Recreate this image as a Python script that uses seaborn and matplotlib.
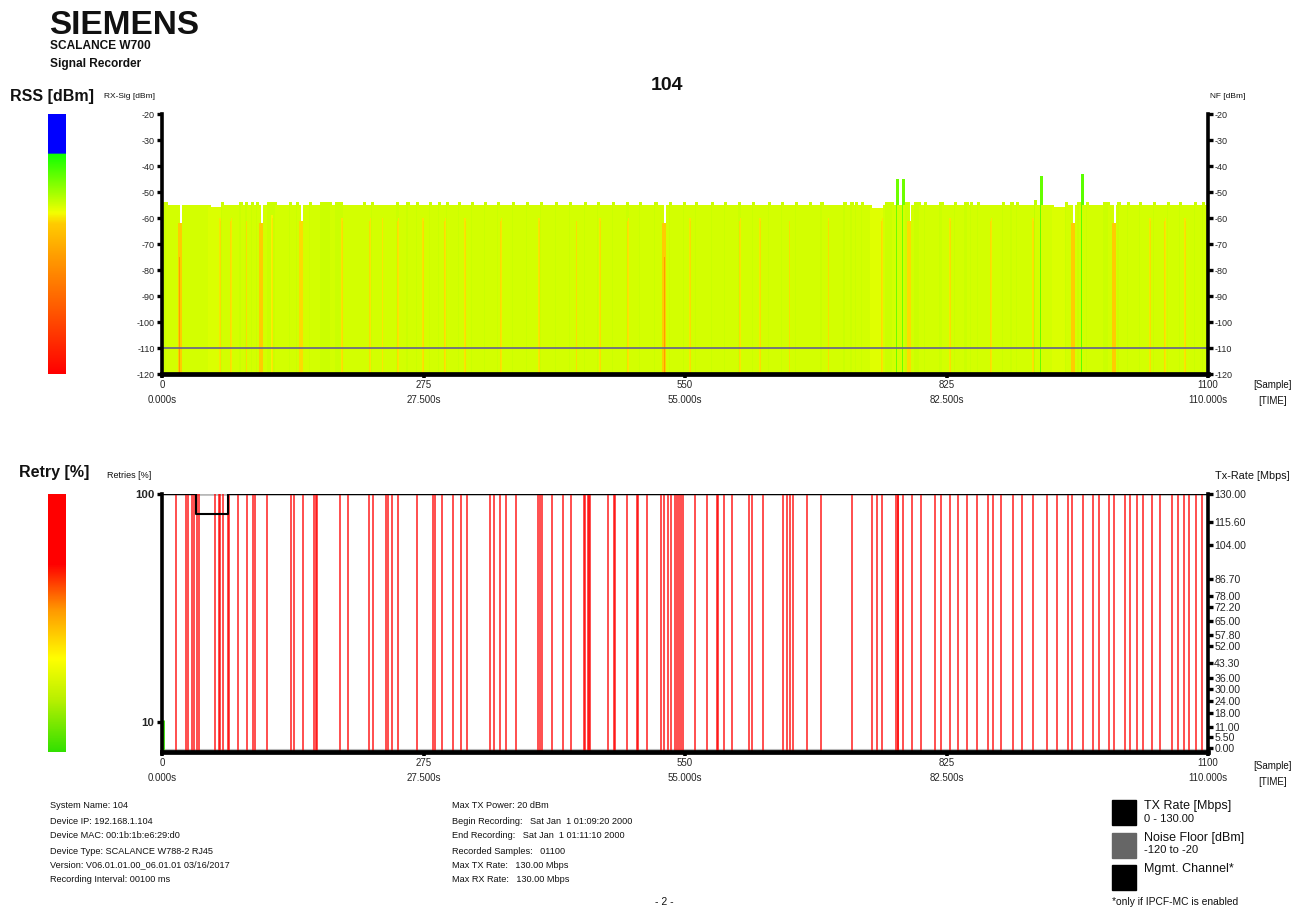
import numpy as np
import pandas as pd
import matplotlib
matplotlib.use("Agg")
import matplotlib.pyplot as plt
import seaborn as sns
from matplotlib.colors import LinearSegmentedColormap, to_hex

# ---------------- data ----------------
n_samples = 1100
sample_ticks = [0, 275, 550, 825, 1100]
time_labels = ["0.000s", "27.500s", "55.000s", "82.500s", "110.000s"]
rss_ticks = [-20, -30, -40, -50, -60, -70, -80, -90, -100, -110, -120]

rss_typical = -55
# sample ranges (inclusive) whose RSS reads one dB higher (-54)
rss_high_ranges = [(2, 4), (63, 63), (74, 74), (82, 83), (88, 88), (95, 95), (100, 100),
                   (111, 119), (135, 135), (142, 142), (156, 156), (167, 177), (183, 188),
                   (212, 212), (221, 221), (247, 247), (258, 259), (268, 268), (275, 275),
                   (282, 282), (291, 291), (299, 300), (312, 312), (326, 326), (340, 340),
                   (353, 353), (369, 369), (384, 384), (399, 399), (414, 414), (429, 429),
                   (445, 445), (459, 459), (474, 474), (489, 489), (503, 503), (519, 519),
                   (534, 534), (549, 549), (562, 562), (578, 578), (592, 592), (607, 607),
                   (622, 622), (638, 638), (652, 652), (667, 667), (681, 681), (693, 694),
                   (701, 701), (717, 718), (725, 726), (730, 730), (736, 736), (761, 768),
                   (782, 784), (792, 796), (802, 802), (818, 820), (834, 834), (845, 847),
                   (851, 851), (858, 858), (884, 884), (893, 894), (899, 899), (951, 951),
                   (963, 964), (973, 973), (991, 995), (1005, 1006), (1016, 1016),
                   (1029, 1029), (1043, 1043), (1058, 1058), (1071, 1071), (1086, 1086),
                   (1095, 1095)]
# sample ranges that read slightly lower
rss_low_ranges = [(0, 1), (50, 60), (746, 758), (937, 950)]
rss_low_values = [-56, -55.6, -56, -55.6]
# samples with a clear drop (stripes / notches)
rss_dip_samples = [18, 19, 20, 21, 61, 62, 73, 74, 89, 90, 103, 104, 105, 106, 116, 117, 145,
                   146, 147, 148, 189, 190, 219, 220, 232, 233, 248, 249, 275, 276, 298, 299,
                   319, 320, 357, 358, 397, 398, 436, 437, 461, 462, 490, 491, 527, 528, 529,
                   530, 555, 556, 608, 609, 629, 630, 660, 661, 701, 702, 757, 758, 785, 786,
                   787, 788, 829, 830, 872, 873, 916, 917, 957, 958, 959, 960, 1000, 1001,
                   1002, 1003, 1039, 1040, 1055, 1056, 1076, 1077]
rss_dip_values = [-62, -75, -62, -62, -60, -61, -61, -60, -61, -62, -62, -62, -62, -62, -59,
                  -60, -61, -61, -61, -61, -60, -61, -61, -60, -60, -61, -61, -60, -60, -61,
                  -61, -60, -60, -61, -61, -60, -60, -61, -61, -60, -60, -61, -61, -60, -62,
                  -62, -75, -62, -60, -61, -61, -60, -60, -61, -61, -60, -60, -61, -61, -60,
                  -61, -61, -61, -61, -60, -61, -61, -60, -60, -61, -62, -62, -62, -62, -62,
                  -62, -62, -62, -60, -61, -61, -60, -60, -61]
rss_spike_samples = [773, 779, 918, 924, 968]
rss_spike_values = [-45, -45, -53, -44, -43]
noise_floor = -110

retry_full_samples = [14, 25, 27, 31, 33, 36, 38, 55, 59, 61, 64, 69, 70, 79, 89, 95, 97, 110,
                      135, 138, 148, 159, 161, 163, 187, 195, 217, 221, 235, 237, 241, 248, 268,
                      285, 287, 294, 305, 314, 320, 344, 349, 355, 361, 372, 395, 397, 399, 410,
                      421, 430, 443, 444, 448, 449, 450, 468, 475, 476, 488, 499, 500, 510, 524,
                      527, 532, 535, 539, 541, 543, 545, 547, 560, 573, 583, 584, 590, 599, 617,
                      620, 632, 653, 657, 660, 663, 678, 693, 725, 746, 751, 757, 771, 773, 774,
                      779, 788, 798, 812, 819, 828, 837, 846, 857, 868, 873, 882, 894, 904, 915,
                      930, 941, 952, 956, 968, 979, 985, 995, 1001, 1012, 1017, 1025, 1031, 1041,
                      1049, 1062, 1068, 1074, 1080, 1087, 1093]
retry_full_value = 100
retry_partial_samples = [1]
retry_partial_values = [11]

tx_change_samples = [0, 36, 69, 1100]
tx_rates = [130, 120, 130, 130]
tx_rate_ticks = [0, 5.5, 11, 18, 24, 30, 36, 43.3, 52, 57.8, 65, 72.2, 78, 86.7, 104, 115.6, 130]

info_left = ["System Name: 104", "Device IP: 192.168.1.104", "Device MAC: 00:1b:1b:e6:29:d0",
             "Device Type: SCALANCE W788-2 RJ45", "Version: V06.01.01.00_06.01.01 03/16/2017",
             "Recording Interval: 00100 ms"]
info_mid = ["Max TX Power: 20 dBm", "Begin Recording:   Sat Jan  1 01:09:20 2000",
            "End Recording:   Sat Jan  1 01:11:10 2000", "Recorded Samples:   01100",
            "Max TX Rate:   130.00 Mbps", "Max RX Rate:   130.00 Mbps"]

# ---------------- assemble series ----------------
rss = np.full(n_samples, float(rss_typical))
for a, b in rss_high_ranges:
    rss[a:b + 1] = -54
for (a, b), v in zip(rss_low_ranges, rss_low_values):
    rss[a:b + 1] = v
rss[rss_dip_samples] = rss_dip_values
rss[rss_spike_samples] = rss_spike_values

# ---------------- style ----------------
sns.set_theme(style="white")
plt.rcParams["font.family"] = ["Liberation Sans", "DejaVu Sans"]
W, H = 1295, 910
fig = plt.figure(figsize=(W / 100, H / 100), dpi=100)
fig.patch.set_facecolor("white")

def fx(x):
    return x / W

def fy(y):
    return 1 - y / H

rss_stops = [(-120, "#ff0000"), (-95, "#ff5a00"), (-75, "#ff9c00"), (-62, "#ffcc00"),
             (-58, "#f4ff00"), (-55, "#d4ff00"), (-45, "#70ff00"), (-35.2, "#10ff00"),
             (-35.0, "#0000ff"), (-20, "#0000ff")]
rss_cmap = LinearSegmentedColormap.from_list(
    "rss", [((v + 120) / 100, c) for v, c in rss_stops])
retry_cmap = LinearSegmentedColormap.from_list(
    "retry", [(0, "#33e000"), (0.2, "#b8f000"), (0.36, "#ffff00"), (0.55, "#ff9900"),
              (0.73, "#ff0000"), (1, "#ff0000")])

axis_floor = -120
ax1 = fig.add_axes([fx(162), fy(374), fx(1046), 260 / H])
ax2 = fig.add_axes([fx(162), fy(752), fx(1046), 258 / H])

# ---------- top: RSS bars ----------
keys = [f"s{i:04d}" for i in range(n_samples)]
df_rss = pd.DataFrame({"pos": np.arange(n_samples) + 0.5, "height": rss - axis_floor, "key": keys})
palette = {k: to_hex(rss_cmap((v - axis_floor) / 100)) for k, v in zip(keys, rss)}
sns.barplot(data=df_rss, x="pos", y="height", hue="key", palette=palette, native_scale=True,
            width=3.2, dodge=False, legend=False, saturation=1, linewidth=0, errorbar=None,
            ax=ax1)
sns.lineplot(x=[0, n_samples], y=[noise_floor - axis_floor] * 2, color="#6c6c84", lw=1.3, ax=ax1)

ax1.set_xlim(0, n_samples)
ax1.set_ylim(0, 100)
ax1.set_yticks([t - axis_floor for t in rss_ticks])
ax1.set_yticklabels([str(t) for t in rss_ticks])
ax1.set_xticks(sample_ticks)
ax1.set_xticklabels([f"{s}\n{t}" for s, t in zip(sample_ticks, time_labels)])
ax1.set_xlabel("")
ax1.set_ylabel("")

# ---------- bottom: retries + tx rate ----------
ax2.set_xlim(0, n_samples)
ax2.set_ylim(-1.8, 100)
sns.lineplot(x=[0, n_samples], y=[100, 100], color="#b8b8b8", lw=2.6, ax=ax2)
sns.lineplot(x=[0, n_samples], y=[-1.2, -1.2], color="#b8b8b8", lw=1.5, ax=ax2)
ax2.vlines(np.array(retry_full_samples) + 0.5, -1.8, retry_full_value, color="#ff0000",
           lw=1.3, alpha=0.75)
ax2.vlines(np.array(retry_partial_samples) + 0.5, -1.8, retry_partial_values,
           color="#33e000", lw=2.0)
ax2r = ax2.twinx()
ax2r.set_ylim(-2, 130)
sns.lineplot(x=tx_change_samples, y=tx_rates, drawstyle="steps-post", color="black", lw=1.5,
             ax=ax2r)
ax2.set_yticks([10, 100])
ax2.set_yticklabels(["10", "100"])
ax2r.set_yticks(tx_rate_ticks)
ax2r.set_yticklabels([f"{t:.2f}" for t in tx_rate_ticks])
ax2.set_xticks(sample_ticks)
ax2.set_xticklabels([f"{s}\n{t}" for s, t in zip(sample_ticks, time_labels)])
for a in (ax2, ax2r):
    a.set_xlabel("")
    a.set_ylabel("")

# ---------- axis styling ----------
for a in (ax1, ax2, ax2r):
    a.set_facecolor("none")
    a.grid(False)
    a.spines["top"].set_visible(False)
    for side in ("left", "right"):
        a.spines[side].set_linewidth(2.6)
        a.spines[side].set_color("black")
    a.spines["bottom"].set_linewidth(3.4)
    a.spines["bottom"].set_color("black")
ax2.spines["right"].set_visible(False)
ax2r.spines["left"].set_visible(False)
ax2r.spines["bottom"].set_visible(False)

ax1.tick_params(axis="y", which="both", left=True, right=True, labelleft=True, labelright=True,
                length=3.5, width=2.4, color="black", labelsize=6.5, pad=1.5, direction="out")
ax1.tick_params(axis="x", bottom=True, length=3, width=2.6, color="black", labelsize=7,
                pad=1.5, direction="out")
ax2.tick_params(axis="y", left=True, length=3.5, width=2.4, color="black", labelsize=8.2,
                pad=2, direction="out")
ax2.tick_params(axis="x", bottom=True, length=3, width=2.6, color="black", labelsize=7,
                pad=1.5, direction="out")
ax2r.tick_params(axis="y", right=True, length=3.5, width=2.4, color="black", labelsize=7.6,
                 pad=1, direction="out")
for lab in ax2.get_yticklabels():
    lab.set_fontweight("bold")
for a in (ax1, ax2):
    for lab in a.get_xticklabels():
        lab.set_linespacing(1.55)

# ---------- colour bars ----------
cb1 = fig.add_axes([fx(48), fy(374), fx(18), 260 / H])
cb1.imshow(np.linspace(1, 0, 400).reshape(-1, 1), aspect="auto", cmap=rss_cmap, vmin=0, vmax=1,
           extent=[0, 1, 0, 1])
cb1.set_axis_off()
cb2 = fig.add_axes([fx(48), fy(752), fx(18), 258 / H])
cb2.imshow(np.linspace(1, 0, 400).reshape(-1, 1), aspect="auto", cmap=retry_cmap, vmin=0, vmax=1,
           extent=[0, 1, 0, 1])
cb2.set_axis_off()

# ---------- texts ----------
t = dict(transform=fig.transFigure, color="#111111")
fig.text(fx(49), fy(25), "SIEMENS", fontsize=24, fontweight="heavy", va="center", ha="left", **t)
fig.text(fx(50), fy(46), "SCALANCE W700", fontsize=8.6, fontweight="bold", va="center", **t)
fig.text(fx(50), fy(64), "Signal Recorder", fontsize=8.6, fontweight="bold", va="center", **t)
fig.text(fx(667), fy(85), "104", fontsize=14, fontweight="bold", va="center", ha="center", **t)
fig.text(fx(10), fy(97), "RSS [dBm]", fontsize=11.5, fontweight="bold", va="center", **t)
fig.text(fx(104), fy(97), "RX-Sig [dBm]", fontsize=6, va="center", **t)
fig.text(fx(1210), fy(97), "NF [dBm]", fontsize=6, va="center", **t)
fig.text(fx(19), fy(472), "Retry [%]", fontsize=11.5, fontweight="bold", va="center", **t)
fig.text(fx(107), fy(476), "Retries [%]", fontsize=6.5, va="center", **t)
fig.text(fx(1215), fy(476), "Tx-Rate [Mbps]", fontsize=7.8, va="center", **t)
for yy in (385, 766):
    fig.text(fx(1273), fy(yy), "[Sample]", fontsize=7, va="center", ha="center", **t)
    fig.text(fx(1273), fy(yy + 16), "[TIME]", fontsize=7, va="center", ha="center", **t)

line_y = [806, 821, 836, 851, 865, 880]
for yy, s in zip(line_y, info_left):
    fig.text(fx(50), fy(yy), s, fontsize=6.6, va="center", **t)
for yy, s in zip(line_y, info_mid):
    fig.text(fx(452), fy(yy), s, fontsize=6.6, va="center", **t)
fig.text(fx(664), fy(902), "- 2 -", fontsize=7.5, va="center", ha="center", **t)

# legend squares
for y0, col in ((800, "black"), (833, "#666666"), (865, "black")):
    fig.patches.append(plt.Rectangle((fx(1112), fy(y0 + 25)), fx(24), 25 / H,
                                     transform=fig.transFigure, color=col))
fig.text(fx(1144), fy(806), "TX Rate [Mbps]", fontsize=9, va="center", **t)
fig.text(fx(1144), fy(819), "0 - 130.00", fontsize=8, va="center", **t)
fig.text(fx(1144), fy(838), "Noise Floor [dBm]", fontsize=9, va="center", **t)
fig.text(fx(1144), fy(850), "-120 to -20", fontsize=8, va="center", **t)
fig.text(fx(1144), fy(869), "Mgmt. Channel*", fontsize=9, va="center", **t)
fig.text(fx(1112), fy(902), "*only if IPCF-MC is enabled", fontsize=7.4, va="center", **t)

fig.savefig("out.png", dpi=100, facecolor="white")
